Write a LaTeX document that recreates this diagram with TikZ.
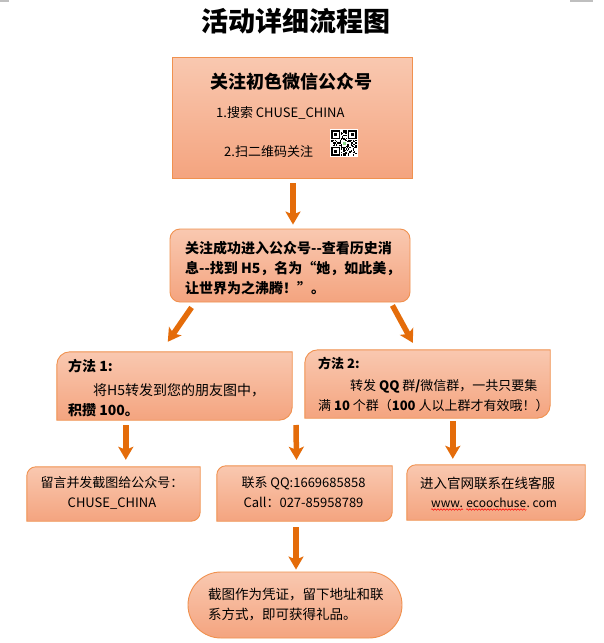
\documentclass[tikz,border=0pt]{standalone}
\usepackage{fontspec}
\setmainfont{Noto Sans CJK SC}
\usetikzlibrary{arrows.meta,calc,decorations.pathmorphing}
\definecolor{ftop}{HTML}{F9C8B0}
\definecolor{fbot}{HTML}{F4A47F}
\definecolor{bline}{HTML}{F0914F}
\definecolor{arrc}{HTML}{E46C0A}
\tikzset{
  boxfill/.style={top color=ftop,bottom color=fbot,draw=bline,line width=0.9pt},
  boxnode/.style={rectangle,inner sep=0pt,draw=none},
  txt/.style={inner sep=0pt,text=black},
  arr/.style={draw=arrc,line width=5.5pt,-{Stealth[width=15pt,length=13pt,inset=3pt]}},
  wavy/.style={draw=red,line width=0.5pt,decorate,decoration={snake,amplitude=0.8pt,segment length=3pt}},
  qrbox/.style={rectangle,fill=white,draw=none,inner sep=0pt,minimum size=28pt}
}
\newcommand\diagcorner[2]{%
  \path[boxfill] ($(#1.north west)+(0,#2)$) .. controls ($(#1.north west)+(0,0.45*#2)$) and ($(#1.north west)+(0.45*#2,0)$) .. ($(#1.north west)+(#2,0)$)
   -- (#1.north east) -- ($(#1.south east)+(0,-#2)$) .. controls ($(#1.south east)+(0,-0.45*#2)$) and ($(#1.south east)+(-0.45*#2,0)$) .. ($(#1.south east)+(-#2,0)$)
   -- (#1.south west) -- cycle;}
\newcommand\qrfinder[2]{%
  \fill[white] (#1-1.2,#2-1.2) rectangle ++(10.8,10.8);
  \fill[black] (#1,#2) rectangle ++(8.4,8.4);
  \fill[white] (#1+1.2,#2+1.2) rectangle ++(6,6);
  \fill[black] (#1+2.4,#2+2.4) rectangle ++(3.6,3.6);}
\begin{document}
\begin{tikzpicture}[x=1pt,y=-1pt]
\fill[white] (0,0) rectangle (603,643);
\useasboundingbox (0,0) rectangle (603,643);
\draw[gray!50,line width=1.5pt] (0,0.75) -- (9,0.75);
\draw[gray!50,line width=1.5pt] (570,0.75) -- (593,0.75);

% title
\node[txt,font=\fontsize{27}{30}\selectfont\bfseries] (title) at (296,21) {活动详细流程图};

% boxes
\node[boxnode,boxfill,minimum width=240pt,minimum height=121pt] (b1) at (292,117.5) {};
\node[boxnode,boxfill,rounded corners=10pt,minimum width=240pt,minimum height=73pt] (b2) at (290,265.5) {};
\node[boxnode,minimum width=235pt,minimum height=68pt] (b3) at (174.5,386) {};
\node[boxnode,minimum width=245pt,minimum height=68pt] (b4) at (427.5,384) {};
\node[boxnode,minimum width=173pt,minimum height=54pt] (b5) at (113.5,494) {};
\node[boxnode,minimum width=175pt,minimum height=55pt] (b6) at (304.5,493.5) {};
\node[boxnode,minimum width=178pt,minimum height=55pt] (b7) at (496,492.5) {};
\node[boxnode,boxfill,rounded corners=33pt,minimum width=214pt,minimum height=66pt] (b8) at (295,605) {};
\diagcorner{b3}{13}
\diagcorner{b4}{13}
\diagcorner{b5}{9}
\diagcorner{b6}{9}
\diagcorner{b7}{9}

% box 1 content
\node[txt,font=\fontsize{18}{20}\selectfont\bfseries] (t1a) at (291,82) {关注初色微信公众号};
\node[txt,anchor=west,font=\fontsize{13}{15}\selectfont] (t1b) at (216,113) {1.搜索 CHUSE\_CHINA};
\node[txt,anchor=west,font=\fontsize{13}{15}\selectfont] (t1c) at (224,152) {2.扫二维码关注};
\node[qrbox] (qr) at (344,143) {};
\pgfmathsetseed{42}
\foreach \i in {0,...,20}{\foreach \j in {0,...,20}{%
  \pgfmathrandominteger{\qrv}{0}{1}%
  \ifnum\qrv=1 \fill[black] ({331.4+\i*1.2},{130.4+\j*1.2}) rectangle ++(1.2,1.2);\fi}}
\qrfinder{331.4}{130.4}
\qrfinder{348.2}{130.4}
\qrfinder{331.4}{147.2}
\fill[white] (341.5,140.5) rectangle ++(5,5);
\fill[green!50!gray!60] (342.5,141.5) rectangle ++(3,3);

% box 2
\node[txt,anchor=north west,align=left,font=\fontsize{14}{20}\selectfont\bfseries] (t2) at (185,241)
 {关注成功进入公众号-{}-查看历史消\\息-{}-找到 H5，名为“她，如此美，\\让世界为之沸腾！”。};

% box 3
\node[txt,anchor=north west,align=left,font=\fontsize{14}{20}\selectfont] (t3) at (68,359)
 {\textbf{方法 1:}\\[4pt]\hspace*{25pt}将H5转发到您的朋友图中，\\\textbf{积攒 100。}};

% box 4
\node[txt,anchor=north west,align=left,font=\fontsize{13}{20}\selectfont] (t4) at (318,356.5)
 {\textbf{方法 2:}\\[2pt]\hspace*{32pt}转发 \textbf{QQ} 群\textbf{/}微信群，一共只要集\\满 \textbf{10} 个群（\textbf{100} 人以上群才有效哦！）};

% row 4
\node[txt,anchor=north,align=center,font=\fontsize{13}{20}\selectfont] (t5) at (112,476.5)
 {留言并发截图给公众号：\\CHUSE\_CHINA};
\node[txt,anchor=north,align=center,font=\fontsize{13}{20}\selectfont] (t6) at (303.5,476.5)
 {联系 QQ:1669685858\\Call：027-85958789};
\node[txt,font=\fontsize{13.5}{16}\selectfont] (t7) at (487.5,483) {进入官网联系在线客服};
\node[txt,anchor=base west,font=\fontsize{12}{14}\selectfont] (w1) at (431,507) {www.};
\node[txt,anchor=base west,font=\fontsize{12}{14}\selectfont] (w2) at ([xshift=3pt]w1.base east) {ecoochuse};
\node[txt,anchor=base west,font=\fontsize{12}{14}\selectfont] (w3) at (w2.base east) {.\ com};
\draw[wavy] ([yshift=-2.5pt]w1.base west) -- ([yshift=-2.5pt]w1.base east);
\draw[wavy] ([yshift=-2.5pt]w2.base west) -- ([yshift=-2.5pt]w2.base east);

% final
\node[txt,anchor=north west,align=left,font=\fontsize{13.5}{20}\selectfont] (t8) at (208,588)
 {截图作为凭证，留下地址和联\\系方式，即可获得礼品。};

% arrows
\coordinate (m) at (296,425);
\draw[arr] ($(b1.south)+(1,5)$) -- ($(b2.north)+(3,-4)$);
\draw[arr] ($(b2.south west)+(22,5)$) -- ($(b3.north west)+(111,-10)$);
\draw[arr] ($(b2.south east)+(-18,3)$) -- ($(b4.north west)+(108,-7)$);
\draw[arr] ($(b3.south west)+(69,5)$) -- ($(b5.north west)+(99,-7)$);
\draw[arr] (m) -- ($(b6.north)+(-8,-6)$);
\draw[arr] ($(b4.south west)+(148,3)$) -- ($(b7.north west)+(46,-6)$);
\draw[arr] ($(b6.south)+(-8.5,6)$) -- ($(b8.north)+(1,-2)$);
\end{tikzpicture}
\end{document}
